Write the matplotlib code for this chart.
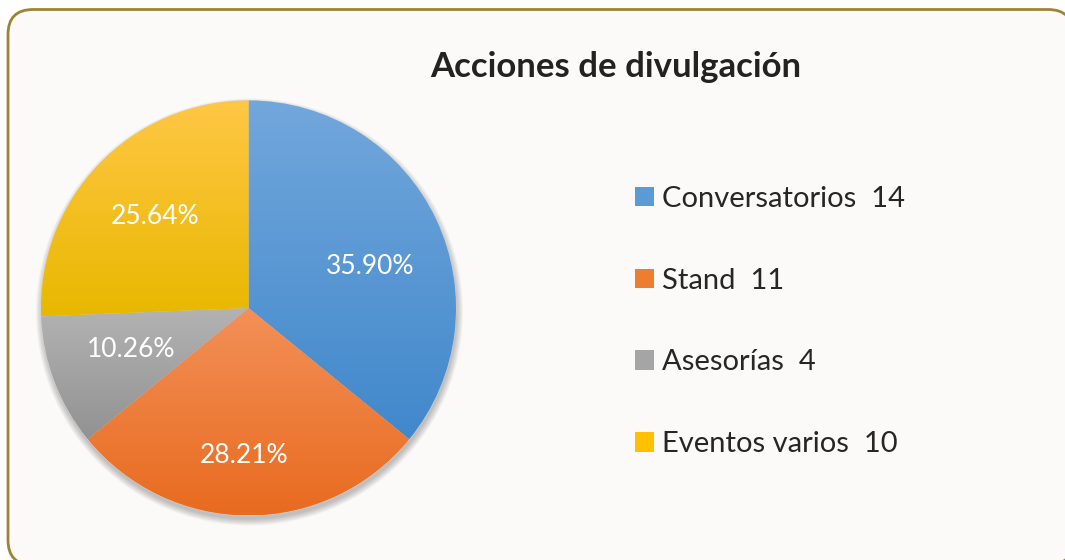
import numpy as np
import matplotlib
matplotlib.use("Agg")
from matplotlib import pyplot as plt
from matplotlib.patches import FancyBboxPatch, Circle, Patch
from matplotlib.colors import LinearSegmentedColormap

plt.rcParams['font.family'] = ['Lato', 'DejaVu Sans']

# data
categories = ["Conversatorios", "Stand", "Asesorías", "Eventos varios"]
counts = [14, 11, 4, 10]
title = "Acciones de divulgación"

# top / bottom colours of each slice gradient
top_colors = ["#72a7dc", "#f39058", "#b3b3b3", "#ffc745"]
bottom_colors = ["#4188cb", "#e86b1f", "#929292", "#e8b800"]
mid_colors = ["#5b9bd5", "#ed7d31", "#a5a5a5", "#ffc000"]

W, H = 1065, 560
fig = plt.figure(figsize=(W / 100, H / 100), dpi=100)
fig.patch.set_facecolor("white")
ax = fig.add_axes([0, 0, 1, 1])

# rounded frame
frame = FancyBboxPatch((8, -5), 1065, 555.5,
                       boxstyle="round,pad=0,rounding_size=25",
                       facecolor="#fbfaf8", edgecolor="#9c8436", linewidth=2, zorder=0)
ax.add_patch(frame)

cx, cy, R = 248.5, 252, 207.5

# soft shadow under the pie
for k in range(7):
    ax.add_patch(Circle((cx + 1, cy - 4), R + 6 - k, facecolor="black",
                        edgecolor="none", alpha=0.035, zorder=1))

wedges, texts, autotexts = ax.pie(
    counts, center=(cx, cy), radius=R, startangle=90, counterclock=False,
    colors=mid_colors, autopct="%1.2f%%", pctdistance=0.63,
    wedgeprops=dict(linewidth=0.6, edgecolor="#d9d9d9"),
    textprops=dict(color="white", fontsize=19),
)

# vertical gradient inside each slice
for w, c1, c2 in zip(wedges, top_colors, bottom_colors):
    w.set_zorder(2)
    bb = w.get_path().get_extents()
    cmap = LinearSegmentedColormap.from_list("g", [c2, c1])
    grad = np.linspace(0, 1, 256).reshape(-1, 1)
    im = ax.imshow(grad, cmap=cmap, aspect="auto", origin="lower",
                   extent=(bb.x0, bb.x1, bb.y0, bb.y1), zorder=2.5)
    im.set_clip_path(w)

# label distances like the reference
label_r = [0.62, 0.71, 0.60, 0.63]
label_ang = [19, -91.7, -160.6, 135.5]
for t, r, a in zip(autotexts, label_r, label_ang):
    t.set_position((cx + r * R * np.cos(np.radians(a)), cy + r * R * np.sin(np.radians(a))))
    t.set_zorder(4)

ax.set_xlim(0, W)
ax.set_ylim(0, H)
ax.axis("off")

ax.text(616, H - 67, title, fontsize=25, fontweight="bold", color="#222222",
        ha="center", va="center")

handles = [Patch(facecolor=c, edgecolor="none") for c in mid_colors]
labels = [f"{n}  {v}" for n, v in zip(categories, counts)]
ax.legend(handles, labels, loc="upper left", bbox_to_anchor=(635 / W, 1 - 186 / H),
          frameon=False, fontsize=21, labelspacing=1.91, handlelength=0.65,
          handleheight=0.65, handletextpad=0.27, borderpad=0, borderaxespad=0,
          labelcolor="#262626")

fig.savefig("out.png", dpi=100)
